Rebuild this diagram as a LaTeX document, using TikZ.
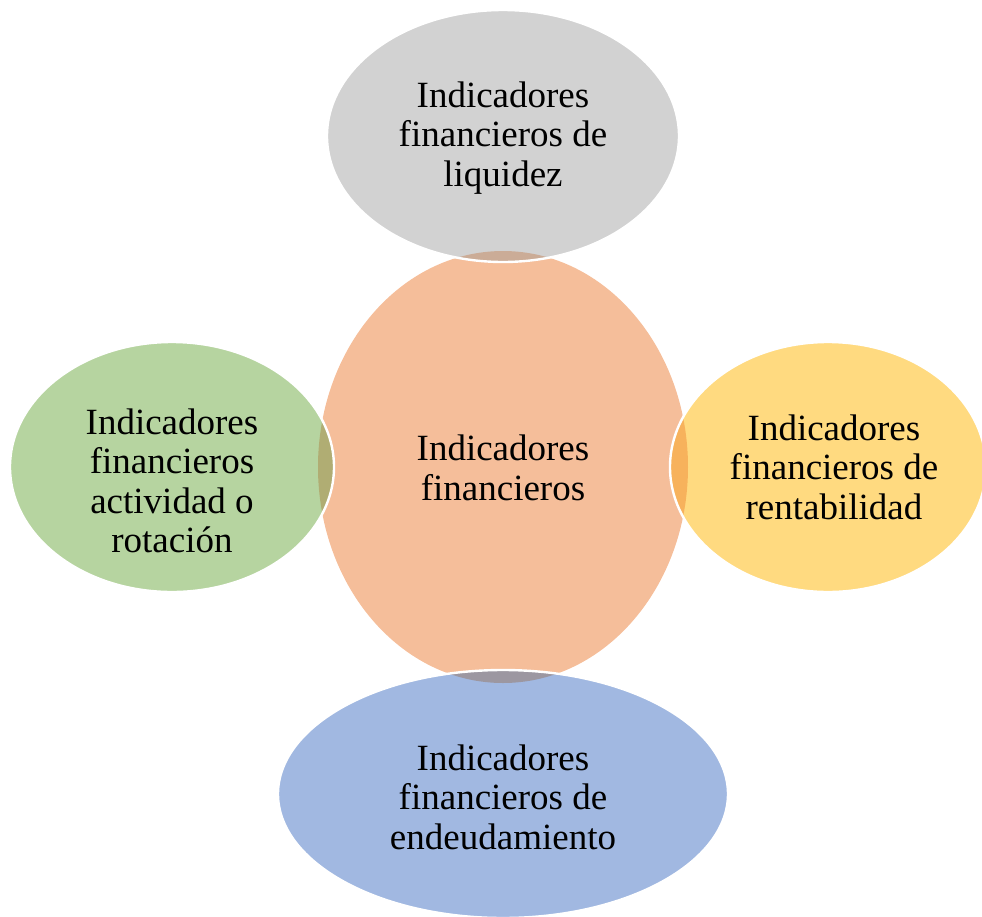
\documentclass[tikz,border=0pt]{standalone}
\usepackage{fontspec}
\setmainfont{Liberation Serif}
\usetikzlibrary{shapes.geometric}
\definecolor{cgray}{RGB}{210,210,210}
\definecolor{corange}{RGB}{245,190,154}
\definecolor{cyellow}{RGB}{255,218,128}
\definecolor{cgreen}{RGB}{182,212,160}
\definecolor{cblue}{RGB}{161,184,225}
\tikzset{
  blob/.style={ellipse, inner sep=0pt, draw=none},
  rim/.style={ellipse, inner sep=0pt, draw=white, line width=1.2pt, fill=none},
  shade/.style={fill=corange, blend mode=multiply, opacity=0.7},
  txt/.style={align=center, font=\fontsize{18.5}{19.75}\selectfont, inner sep=0pt}
}
\begin{document}
\begin{tikzpicture}[x=0.5pt,y=-0.5pt]
\useasboundingbox (0,0) rectangle (982,917);
% centre
\node[blob, fill=corange, minimum width=185pt, minimum height=216pt] (c) at (503,467) {};
% satellites
\node[blob, fill=cgray, minimum width=176pt, minimum height=126pt] (t) at (503,136) {};
\node[blob, fill=cyellow, minimum width=158pt, minimum height=125pt] (r) at (828,467) {};
\node[blob, fill=cgreen, minimum width=162pt, minimum height=125pt] (l) at (172,467) {};
\node[blob, fill=cblue, minimum width=225pt, minimum height=124pt] (b) at (503,794) {};
% overlaps
\begin{scope}
\clip (t.center) ellipse [x radius=176, y radius=126];
\fill[shade] (c.center) ellipse [x radius=185, y radius=216];
\end{scope}
\begin{scope}
\clip (r.center) ellipse [x radius=158, y radius=125];
\fill[shade] (c.center) ellipse [x radius=185, y radius=216];
\end{scope}
\begin{scope}
\clip (l.center) ellipse [x radius=162, y radius=125];
\fill[shade] (c.center) ellipse [x radius=185, y radius=216];
\end{scope}
\begin{scope}
\clip (b.center) ellipse [x radius=225, y radius=124];
\fill[shade] (c.center) ellipse [x radius=185, y radius=216];
\end{scope}
% white rims
\node[rim, minimum width=176pt, minimum height=126pt] (tr) at (t) {};
\node[rim, minimum width=158pt, minimum height=125pt] (rr) at (r) {};
\node[rim, minimum width=162pt, minimum height=125pt] (lr) at (l) {};
\node[rim, minimum width=225pt, minimum height=124pt] (br) at (b) {};
% texts
\node[txt] (tt) at (503,138) {Indicadores\\financieros de\\liquidez};
\node[txt] (ct) at (503,468) {Indicadores\\financieros};
\node[txt] (rt) at (834,467) {Indicadores\\financieros de\\rentabilidad};
\node[txt] (lt) at (172,481) {Indicadores\\financieros\\actividad o\\rotación};
\node[txt] (bt) at (503,797) {Indicadores\\financieros de\\endeudamiento};
\end{tikzpicture}
\end{document}
